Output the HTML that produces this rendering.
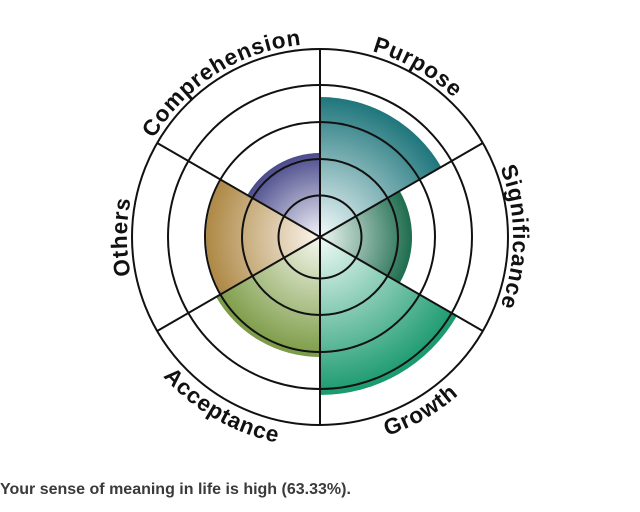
<!DOCTYPE html>
<html><head><style>
html,body{margin:0;padding:0;background:#fff;width:640px;height:512px;overflow:hidden}
svg{position:absolute;left:0;top:0}
.lbl{font-family:"Liberation Sans",sans-serif;font-weight:bold;font-size:22.5px;fill:#111;letter-spacing:0.8px}
.cap{position:absolute;left:0;top:481px;font-family:"Liberation Sans",sans-serif;font-weight:bold;font-size:16px;color:#3a3a3a}
</style></head><body>
<svg width="640" height="512" viewBox="0 0 640 512">
<defs>
<radialGradient id="gP" gradientUnits="userSpaceOnUse" cx="320" cy="237" r="140"><stop offset="0" stop-color="#f4fbfb"/><stop offset="1" stop-color="#1f767c"/></radialGradient>
<radialGradient id="gS" gradientUnits="userSpaceOnUse" cx="320" cy="237" r="92"><stop offset="0" stop-color="#f0f8f4"/><stop offset="1" stop-color="#1e6c4e"/></radialGradient>
<radialGradient id="gG" gradientUnits="userSpaceOnUse" cx="320" cy="237" r="158"><stop offset="0" stop-color="#f0fbf7"/><stop offset="1" stop-color="#19996e"/></radialGradient>
<radialGradient id="gA" gradientUnits="userSpaceOnUse" cx="320" cy="237" r="120"><stop offset="0" stop-color="#f6f8ee"/><stop offset="1" stop-color="#7b9b45"/></radialGradient>
<radialGradient id="gO" gradientUnits="userSpaceOnUse" cx="320" cy="237" r="114"><stop offset="0" stop-color="#fbf6ee"/><stop offset="1" stop-color="#ae8845"/></radialGradient>
<radialGradient id="gC" gradientUnits="userSpaceOnUse" cx="320" cy="237" r="84"><stop offset="0" stop-color="#f4f4fa"/><stop offset="1" stop-color="#4b4b8c"/></radialGradient>
<path id="top" d="M320,44 A193,193 0 1,1 320,430 A193,193 0 1,1 320,44"/>
<path id="bot" d="M110,237 A210,210 0 0,0 530,237"/>
</defs>
<path d="M320,237 L320,97 A140,140 0 0,1 441.2,167 Z" fill="url(#gP)"/>
<path d="M320,237 L399.7,191 A92,92 0 0,1 399.7,283 Z" fill="url(#gS)"/>
<path d="M320,237 L456.8,316 A158,158 0 0,1 320,395 Z" fill="url(#gG)"/>
<path d="M320,237 L320,357 A120,120 0 0,1 216.1,297 Z" fill="url(#gA)"/>
<path d="M320,237 L221.3,294 A114,114 0 0,1 221.3,180 Z" fill="url(#gO)"/>
<path d="M320,237 L247.3,195 A84,84 0 0,1 320,153 Z" fill="url(#gC)"/>
<g fill="none" stroke="#111" stroke-width="2">
<circle cx="320" cy="237" r="41.5"/>
<circle cx="320" cy="237" r="78"/>
<circle cx="320" cy="237" r="115"/>
<circle cx="320" cy="237" r="152"/>
<circle cx="320" cy="237" r="188"/>
<line x1="320" y1="49" x2="320" y2="425"/>
<line x1="157.2" y1="143" x2="482.8" y2="331"/>
<line x1="157.2" y1="331" x2="482.8" y2="143"/>
</g>
<text class="lbl"><textPath href="#top" startOffset="8.3%" text-anchor="middle">Purpose</textPath></text>
<text class="lbl"><textPath href="#top" startOffset="25%" text-anchor="middle">Significance</textPath></text>
<text class="lbl"><textPath href="#top" startOffset="75%" text-anchor="middle">Others</textPath></text>
<text class="lbl"><textPath href="#top" startOffset="91%" text-anchor="middle">Comprehension</textPath></text>
<text class="lbl"><textPath href="#bot" startOffset="33.3%" text-anchor="middle">Acceptance</textPath></text>
<text class="lbl"><textPath href="#bot" startOffset="66.7%" text-anchor="middle">Growth</textPath></text>
</svg>
<div class="cap">Your sense of meaning in life is high (63.33%).</div>
</body></html>
